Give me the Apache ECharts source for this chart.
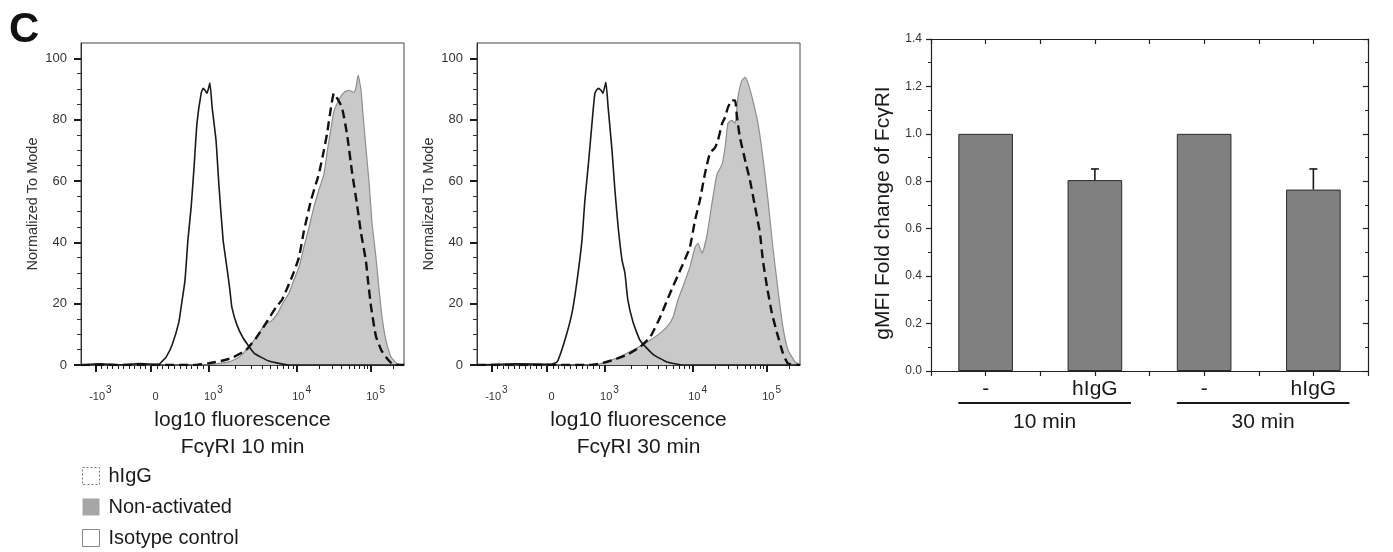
<!DOCTYPE html>
<html>
<head>
<meta charset="utf-8">
<script src="https://cdn.jsdelivr.net/npm/echarts@6/dist/echarts.min.js"></script>
<style>
  html, body { margin: 0; padding: 0; background: #fff; }
  #main { width: 1393px; height: 552px; }
</style>
</head>
<body>
<div id="main"></div>
<script>
// ---------- Flow histograms: [display channel (0..1000), % of mode] ----------
const isotype10 = [[0,0],[60,0.4],[120,0],[180,0.5],[241,0.2],[251,1.2],[263,2.5],[282,6.5],[303,14],[310,18.9],[322,27.7],[331,40.7],[341,51.5],[350,64.5],[359,78.8],[372,88.6],[378,90.2],[384,89.6],[390,88.6],[399,91.9],[406,84.0],[418,73.3],[427,58.6],[440,40.7],[452,31.6],[461,24.4],[467,18.9],[483,13.0],[502,8.8],[536,3.9],[582,1.3],[644,0],[1000,0]];
const nonActivated10 = [[0,0],[365,0],[412,0.3],[458,1.0],[489,2.5],[511,4.9],[536,8.1],[551,10.4],[570,13.4],[588,14.3],[607,16.6],[625,20.2],[644,23.5],[659,27.7],[675,31.9],[690,38.4],[706,44.9],[721,51.5],[737,57.3],[752,62.2],[762,69.4],[774,77.2],[783,82.7],[799,86.6],[814,88.9],[830,89.6],[845,88.9],[851,90.2],[858,94.5],[867,89.6],[873,81.8],[882,71.0],[892,59.3],[901,46.3],[913,35.2],[923,24.4],[932,15.6],[944,8.1],[960,2.6],[978,0.5],[1000,0]];
const hIgG10 = [[0,0],[350,0],[396,0.6],[433,1.3],[467,2.3],[511,4.9],[542,8.8],[573,13.7],[604,18.9],[622,21.2],[644,26.4],[659,30.3],[675,35.2],[690,43.6],[712,53.7],[728,59.3],[737,62.5],[752,70.0],[762,75.6],[774,84.0],[783,88.6],[793,87.0],[808,84.0],[824,75],[839,63],[855,52],[867,43],[882,34],[889,27],[898,19],[913,9.4],[929,5],[944,2.6],[960,0.7],[975,0],[1000,0]];

const isotype30 = [[0,0],[120,0.4],[226,0.2],[248,1],[272,8.1],[294,16.9],[310,27.7],[325,40.7],[334,53.7],[344,64.5],[356,78.8],[365,88.6],[375,90.2],[384,89.6],[390,88.6],[399,92.2],[406,84.0],[418,70.0],[427,57.0],[437,45.0],[449,34.2],[458,30.0],[467,21.2],[483,14],[505,8],[545,3.5],[588,1],[638,0],[1000,0]];
const nonActivated30 = [[0,0],[365,0],[390,0.7],[433,2.3],[483,4.9],[536,8.1],[567,10.4],[588,12.4],[607,15.6],[622,21.2],[638,25.7],[659,31.9],[675,38.4],[684,39.7],[697,36.5],[712,42.3],[728,53.1],[743,62.2],[759,65.5],[768,71.0],[777,78.8],[789,79.8],[799,78.8],[808,87.3],[820,92.8],[830,93.8],[839,91.9],[854,86.3],[870,78.8],[885,67.8],[901,53.7],[916,38.4],[932,24.4],[947,12.4],[963,4.9],[985,1],[1000,0]];
const hIgG30 = [[0,0],[350,0],[390,0.7],[421,1.6],[464,3.3],[505,5.9],[536,9.1],[567,15.6],[598,23.5],[629,30.9],[659,38.4],[675,47.2],[690,53.7],[706,62.5],[721,69.0],[737,70.9],[746,73.3],[759,78.8],[768,80.8],[777,84.0],[789,86.3],[799,86.3],[805,80.8],[814,74.2],[830,66.8],[845,60.3],[861,51.5],[876,43.0],[885,34.2],[898,25.4],[913,16.9],[929,10.4],[947,3.9],[963,0.5],[1000,0]];

// Fluorescence tick values on the biexponential axis and their labels
const decadeValues = [-1000, 0, 1000, 10000, 100000];
const decadeLabels = ['{n|-10}{s|3}', '{n|0}', '{n|10}{s|3}', '{n|10}{s|4}', '{n|10}{s|5}'];
const yCountTicks = [0, 20, 40, 60, 80, 100];

// ---------- Bar chart: gMFI fold change ----------
const barCategories = ['-', 'hIgG', '-', 'hIgG'];
const barValues = [1.0, 0.805, 1.0, 0.765];
const barErrors = [0, 0.047, 0, 0.087];
const groupLabels = ['10 min', '30 min'];
const groupSpans = [[0, 1], [2, 3]];

// ---------- Axis helpers ----------
const FONT = 'Liberation Sans, Arial, Helvetica, sans-serif';
// Biexponential display: channel (0..1000) of a fluorescence value
const AXIS_ANCHORS = [[-1000, 46], [0, 217], [1000, 396], [1e4, 669], [1e5, 898], [1e6, 1127]];
function toChannel(v) {
  if (v <= 1000) {
    for (let i = 0; i < 2; i++) {
      const [v0, c0] = AXIS_ANCHORS[i], [v1, c1] = AXIS_ANCHORS[i + 1];
      if (v <= v1) return c0 + (v - v0) / (v1 - v0) * (c1 - c0);
    }
  }
  for (let i = 2; i < AXIS_ANCHORS.length - 1; i++) {
    const [v0, c0] = AXIS_ANCHORS[i], [v1, c1] = AXIS_ANCHORS[i + 1];
    if (v <= v1) return c0 + (Math.log10(v) - Math.log10(v0)) / (Math.log10(v1) - Math.log10(v0)) * (c1 - c0);
  }
  return 1000;
}
const majorPos = decadeValues.map(toChannel);
const minorValues = [];
for (let k = -900; k <= 900; k += 100) if (k !== 0) minorValues.push(k);
[1000, 10000].forEach(d => { for (let m = 2; m <= 9; m++) minorValues.push(m * d); });
minorValues.push(200000);
const minorPos = minorValues.map(toChannel);
const yMinorTicks = [];
for (let v = 5; v <= 100; v += 5) if (v % 20 !== 0) yMinorTicks.push(v);

function decadeLabel(val) {
  let best = 0;
  majorPos.forEach((p, i) => { if (Math.abs(p - val) < Math.abs(majorPos[best] - val)) best = i; });
  return decadeLabels[best];
}

function histX(gridIndex, title) {
  return [{
    type: 'value', gridIndex, min: 0, max: 1000, position: 'bottom',
    name: title, nameLocation: 'middle', nameGap: 41,
    nameTextStyle: { fontFamily: FONT, fontSize: 21, lineHeight: 27, color: '#1a1a1a' },
    axisLine: { show: true, onZero: false, lineStyle: { color: '#1a1a1a', width: 1.5 } },
    axisTick: { show: true, customValues: majorPos, length: 7, lineStyle: { color: '#1a1a1a', width: 2 } },
    axisLabel: {
      show: true, customValues: majorPos, margin: 20, padding: [0, 0, 0, 9],
      formatter: decadeLabel, color: '#333', fontFamily: FONT,
      rich: {
        n: { fontSize: 11, lineHeight: 17, verticalAlign: 'bottom', fontFamily: FONT, color: '#333' },
        s: { fontSize: 10, lineHeight: 17, verticalAlign: 'top', fontFamily: FONT, color: '#333', padding: [0, 0, 0, 1] }
      }
    },
    splitLine: { show: false }
  }, {
    type: 'value', gridIndex, min: 0, max: 1000, position: 'bottom',
    axisLine: { show: false, onZero: false },
    axisTick: { show: true, customValues: minorPos, length: 4, lineStyle: { color: '#1a1a1a', width: 1 } },
    axisLabel: { show: false },
    splitLine: { show: false }
  }];
}
function histY(gridIndex) {
  return [{
    type: 'value', gridIndex, min: 0, max: 105, position: 'left',
    name: 'Normalized To Mode', nameLocation: 'middle', nameGap: 41,
    nameTextStyle: { fontFamily: FONT, fontSize: 14.5, color: '#333' },
    axisLine: { show: true, onZero: false, lineStyle: { color: '#333', width: 1 } },
    axisTick: { show: true, customValues: yCountTicks, length: 7, lineStyle: { color: '#1a1a1a', width: 2 } },
    axisLabel: { show: true, customValues: yCountTicks, margin: 14, fontSize: 13, color: '#333', fontFamily: FONT },
    splitLine: { show: false }
  }, {
    type: 'value', gridIndex, min: 0, max: 105, position: 'left',
    axisLine: { show: false, onZero: false },
    axisTick: { show: true, customValues: yMinorTicks, length: 4, lineStyle: { color: '#333', width: 1 } },
    axisLabel: { show: false },
    splitLine: { show: false }
  }];
}
function histSeries(xi, yi, iso, non, igg) {
  return [{
    name: 'Non-activated', type: 'line', xAxisIndex: xi, yAxisIndex: yi, data: non,
    showSymbol: false, smooth: 0.15, color: '#a8a8a8',
    lineStyle: { color: '#8e8e8e', width: 1.2 },
    areaStyle: { color: '#c9c9c9', opacity: 1 }, z: 2
  }, {
    name: 'Isotype control', type: 'line', xAxisIndex: xi, yAxisIndex: yi, data: iso,
    showSymbol: false, smooth: 0.15, color: '#1a1a1a',
    lineStyle: { color: '#1a1a1a', width: 1.6 }, z: 3
  }, {
    name: 'hIgG', type: 'line', xAxisIndex: xi, yAxisIndex: yi, data: igg,
    showSymbol: false, smooth: 0.15, color: '#111',
    lineStyle: { color: '#111', width: 2.4, type: [9, 5] }, z: 4
  }];
}

const chart = echarts.init(document.getElementById('main'), null, { renderer: 'canvas' });

const errorData = barValues.map((v, i) => [i, v, v + barErrors[i]]).filter((d, i) => barErrors[i] > 0);

const option = {
  backgroundColor: '#fff',
  animation: false,
  textStyle: { fontFamily: FONT },
  graphic: [{
    type: 'text', left: 9, top: 9,
    style: { text: 'C', font: 'bold 42px ' + FONT, fill: '#111' }
  }],
  legend: {
    orient: 'vertical', left: 82, top: 466, height: 100, itemWidth: 17, itemHeight: 17, itemGap: 11,
    padding: 0,
    selectedMode: false,
    textStyle: { fontFamily: FONT, fontSize: 20, lineHeight: 20, color: '#1a1a1a', padding: [0, 0, 0, 4] },
    data: [
      { name: 'hIgG', icon: 'rect', itemStyle: { color: '#fff', borderColor: '#777', borderWidth: 1, borderType: [2, 2] } },
      { name: 'Non-activated', icon: 'rect', itemStyle: { color: '#a6a6a6', borderWidth: 0 } },
      { name: 'Isotype control', icon: 'rect', itemStyle: { color: '#fff', borderColor: '#888', borderWidth: 1 } }
    ]
  },
  grid: [
    { left: 81, top: 43, width: 323, height: 322, show: true, borderColor: '#444', borderWidth: 1, backgroundColor: 'transparent' },
    { left: 477, top: 43, width: 323, height: 322, show: true, borderColor: '#444', borderWidth: 1, backgroundColor: 'transparent' },
    { left: 931, top: 39, width: 437, height: 332, show: false }
  ],
  xAxis: [
    ...histX(0, 'log10 fluorescence\nFcγRI 10 min'),
    ...histX(1, 'log10 fluorescence\nFcγRI 30 min'),
    {
      type: 'category', gridIndex: 2, data: barCategories, position: 'bottom',
      axisLine: { show: true, onZero: false, lineStyle: { color: '#222', width: 1.2 } },
      axisTick: { show: false },
      axisLabel: { margin: 8, fontSize: 21, color: '#1a1a1a', fontFamily: FONT }
    },
    {
      type: 'value', gridIndex: 2, min: 0, max: 4, interval: 0.5, position: 'bottom',
      axisLine: { show: false, onZero: false },
      axisTick: { show: true, length: 5, lineStyle: { color: '#222', width: 1.2 } },
      axisLabel: { show: false }, splitLine: { show: false }
    },
    {
      type: 'value', gridIndex: 2, min: 0, max: 4, interval: 0.5, position: 'top',
      axisLine: { show: true, onZero: false, lineStyle: { color: '#222', width: 1.2 } },
      axisTick: { show: true, inside: true, length: 5, lineStyle: { color: '#222', width: 1.2 } },
      axisLabel: { show: false }, splitLine: { show: false }
    }
  ],
  yAxis: [
    ...histY(0),
    ...histY(1),
    {
      type: 'value', gridIndex: 2, min: 0, max: 1.4, interval: 0.2, position: 'left',
      name: 'gMFI Fold change of FcγRI', nameLocation: 'middle', nameGap: 37,
      nameTextStyle: { fontFamily: FONT, fontSize: 21, color: '#1a1a1a', padding: [0, 16, 0, 0] },
      axisLine: { show: true, onZero: false, lineStyle: { color: '#222', width: 1.2 } },
      axisTick: { show: true, length: 5, lineStyle: { color: '#222', width: 1.2 } },
      minorTick: { show: true, splitNumber: 2, length: 3, lineStyle: { color: '#222', width: 1 } },
      axisLabel: { margin: 9, fontSize: 12, color: '#333', fontFamily: FONT, formatter: v => v.toFixed(1) },
      splitLine: { show: false }
    },
    {
      type: 'value', gridIndex: 2, min: 0, max: 1.4, interval: 0.2, position: 'right',
      axisLine: { show: true, onZero: false, lineStyle: { color: '#222', width: 1.2 } },
      axisTick: { show: true, inside: true, length: 5, lineStyle: { color: '#222', width: 1.2 } },
      minorTick: { show: true, splitNumber: 2, length: 3, lineStyle: { color: '#222', width: 1 } },
      axisLabel: { show: false }, splitLine: { show: false }
    }
  ],
  series: [
    ...histSeries(0, 0, isotype10, nonActivated10, hIgG10),
    ...histSeries(2, 2, isotype30, nonActivated30, hIgG30),
    {
      name: 'gMFI', type: 'bar', xAxisIndex: 4, yAxisIndex: 4, data: barValues,
      barWidth: '50%',
      itemStyle: { color: '#808080', borderColor: '#2a2a2a', borderWidth: 1 }, z: 2
    },
    {
      name: 'SEM', type: 'custom', xAxisIndex: 4, yAxisIndex: 4, data: errorData,
      encode: { x: 0, y: [1, 2] }, z: 3,
      renderItem: (params, api) => {
        const x = api.value(0);
        const pLo = api.coord([x, api.value(1)]);
        const pHi = api.coord([x, api.value(2)]);
        const st = { stroke: '#1a1a1a', lineWidth: 1.6 };
        return {
          type: 'group', children: [
            { type: 'line', shape: { x1: pLo[0], y1: pLo[1], x2: pHi[0], y2: pHi[1] }, style: st },
            { type: 'line', shape: { x1: pHi[0] - 4, y1: pHi[1], x2: pHi[0] + 4, y2: pHi[1] }, style: st }
          ]
        };
      }
    },
    {
      name: 'time', type: 'custom', xAxisIndex: 4, yAxisIndex: 4, clip: false,
      data: groupSpans.map(s => [s[0], s[1], 0]),
      encode: { x: [0, 1], y: 2 }, z: 3,
      renderItem: (params, api) => {
        const p0 = api.coord([api.value(0), 0]);
        const p1 = api.coord([api.value(1), 0]);
        const band = api.size([1, 0])[0];
        const xa = p0[0] - band * 0.25, xb = p1[0] + band * 0.33;
        const y = p0[1] + 32;
        return {
          type: 'group', children: [
            { type: 'line', shape: { x1: xa, y1: y, x2: xb, y2: y }, style: { stroke: '#1a1a1a', lineWidth: 2 } },
            {
              type: 'text', x: (xa + xb) / 2, y: y + 19,
              style: { text: groupLabels[params.dataIndex], fill: '#1a1a1a', font: '21px ' + FONT, align: 'center', verticalAlign: 'middle' }
            }
          ]
        };
      }
    }
  ]
};
chart.setOption(option);
</script>
</body>
</html>
